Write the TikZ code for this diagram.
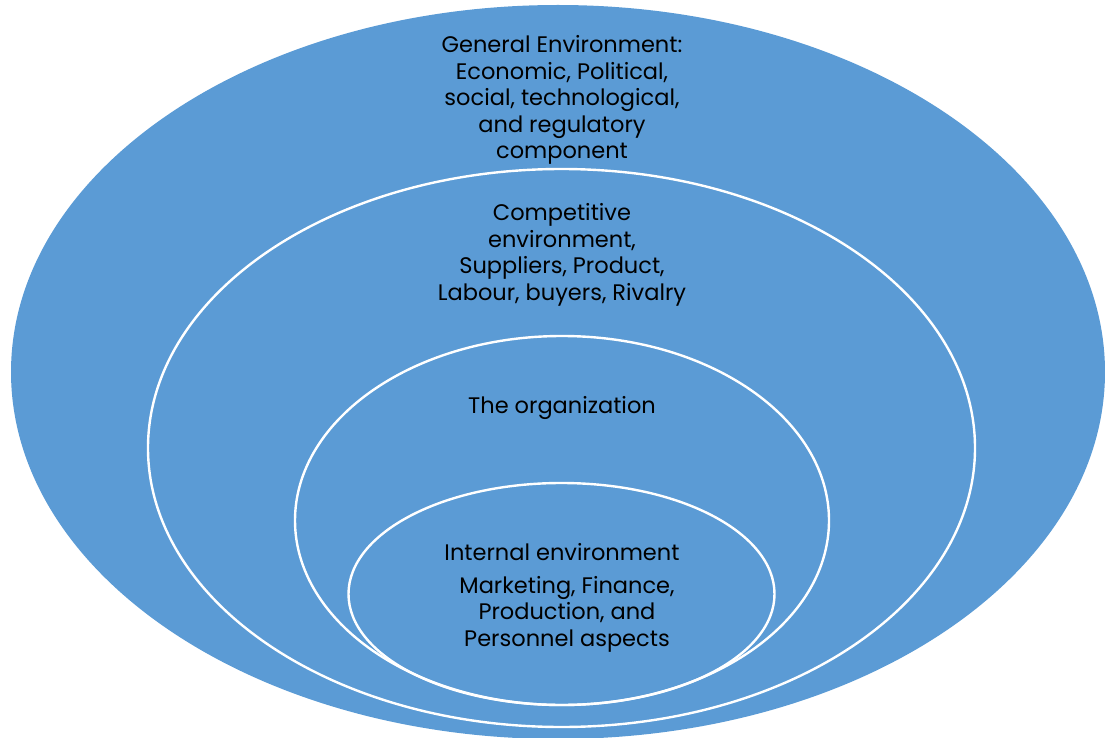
\documentclass[tikz,border=0pt]{standalone}
\usepackage{fontspec}
\setmainfont{Poppins}
\definecolor{officeblue}{HTML}{5B9BD5}
\begin{document}
\begin{tikzpicture}[x=1pt,y=-1pt,
  ring/.style={draw=white,line width=2.4pt},
  lbl/.style={align=center,font=\fontsize{22.5}{26.5}\selectfont,text=black,inner sep=0pt}]
\useasboundingbox (0,0) rectangle (1105,738);
\clip (0,0) rectangle (1105,738);
\fill[officeblue] (558,372) ellipse [x radius=547, y radius=367];
\draw[ring] (561.5,448) ellipse [x radius=413.5, y radius=279];
\draw[ring] (562,520.5) ellipse [x radius=267, y radius=184.5];
\draw[ring] (561.5,594) ellipse [x radius=213, y radius=111];
\node[lbl] (gen) at (562,100) {General Environment:\\Economic, Political,\\social, technological,\\and regulatory\\component};
\node[lbl] (comp) at (562,255) {Competitive\\environment,\\Suppliers, Product,\\Labour, buyers, Rivalry};
\node[lbl] (org) at (562,408) {The organization};
\node[lbl] (int) at (562,552) {Internal environment};
\node[lbl] (intd) at (567,614) {Marketing, Finance,\\Production, and\\Personnel aspects};
\end{tikzpicture}
\end{document}
